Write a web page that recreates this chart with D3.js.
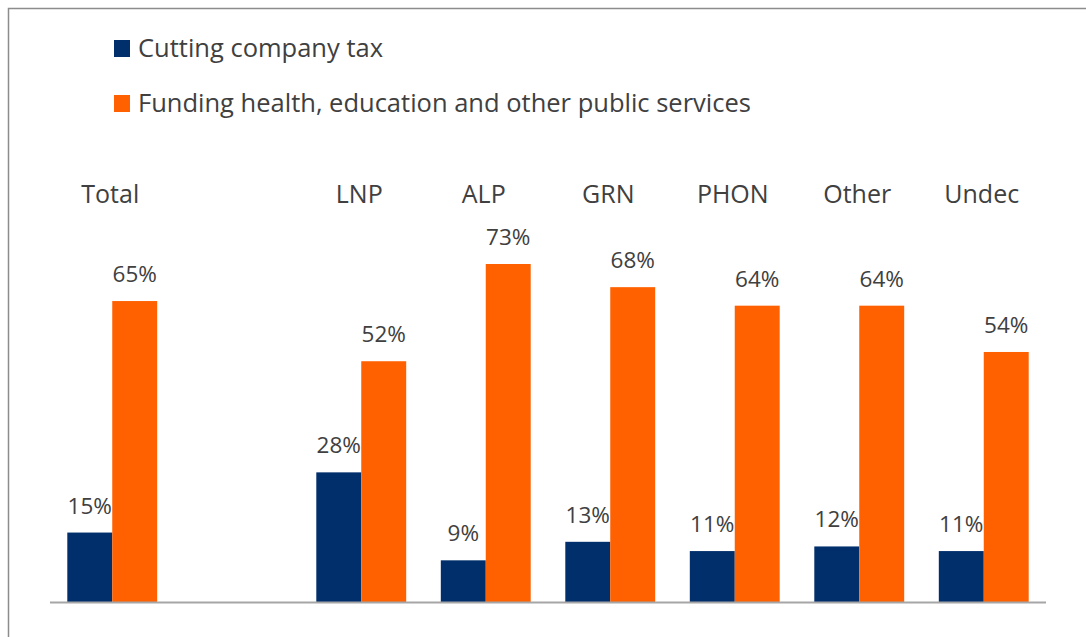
<!DOCTYPE html>
<html>
<head>
<meta charset="utf-8">
<script src="https://cdn.jsdelivr.net/npm/d3@7"></script>
<style>
  body { margin: 0; background: #fff; }
  text { font-family: "Open Sans", sans-serif; fill: #404040; }
</style>
</head>
<body>
<script>
// data
const categories = ["Total", "", "LNP", "ALP", "GRN", "PHON", "Other", "Undec"];
const seriesNames = ["Cutting company tax", "Funding health, education and other public services"];
const companyTax = [15, null, 28, 9, 13, 11, 12, 11];
const publicServices = [65, null, 52, 73, 68, 64, 64, 54];
const colors = ["#002F6C", "#FF6000"];

const width = 1086, height = 637;

const svg = d3.select("body")
  .append("svg")
  .attr("width", width)
  .attr("height", height);

// frame round the chart
svg.append("rect")
  .attr("x", 8.5)
  .attr("y", 8.5)
  .attr("width", 1100)
  .attr("height", 700)
  .attr("fill", "none")
  .attr("stroke", "#8c8c8c")
  .attr("stroke-width", 1.5);

const x = d3.scaleBand()
  .domain(d3.range(categories.length))
  .range([50, 1046])
  .paddingInner(0.278)
  .paddingOuter(0.139);

const x1 = d3.scaleBand()
  .domain([0, 1])
  .range([0, x.bandwidth()]);

const y = d3.scaleLinear()
  .domain([0, 100])
  .range([602, 139]);

const series = [companyTax, publicServices];

series.forEach(function (vals, s) {
  const g = svg.append("g");
  const rows = vals.map((v, i) => ({ i: i, v: v })).filter(d => d.v !== null);

  g.selectAll("rect")
    .data(rows)
    .join("rect")
    .attr("x", d => x(d.i) + x1(s))
    .attr("y", d => y(d.v))
    .attr("width", x1.bandwidth())
    .attr("height", d => y(0) - y(d.v))
    .attr("fill", colors[s]);

  g.selectAll("text")
    .data(rows)
    .join("text")
    .attr("x", d => x(d.i) + x1(s) + x1.bandwidth() / 2)
    .attr("y", d => y(d.v) - 19)
    .attr("text-anchor", "middle")
    .attr("font-size", 22.5)
    .text(d => d.v + "%");
});

// baseline
svg.append("line")
  .attr("x1", 50)
  .attr("x2", 1046)
  .attr("y1", y(0) + 0.5)
  .attr("y2", y(0) + 0.5)
  .attr("stroke", "#a6a6a6")
  .attr("stroke-width", 2);

// category labels above the bars
svg.selectAll(".cat")
  .data(categories)
  .join("text")
  .attr("class", "cat")
  .attr("x", (d, i) => x(i) + x.bandwidth() / 2 - 2)
  .attr("y", 203)
  .attr("text-anchor", "middle")
  .attr("font-size", 25)
  .text(d => d);

// legend
const legend = svg.selectAll(".legend")
  .data(seriesNames)
  .join("g")
  .attr("class", "legend")
  .attr("transform", (d, i) => "translate(114," + (40 + i * 55) + ")");

legend.append("rect")
  .attr("width", 16)
  .attr("height", 17)
  .attr("fill", (d, i) => colors[i]);

legend.append("text")
  .attr("x", 24)
  .attr("y", 17)
  .attr("font-size", 25.5)
  .text(d => d);
</script>
</body>
</html>
